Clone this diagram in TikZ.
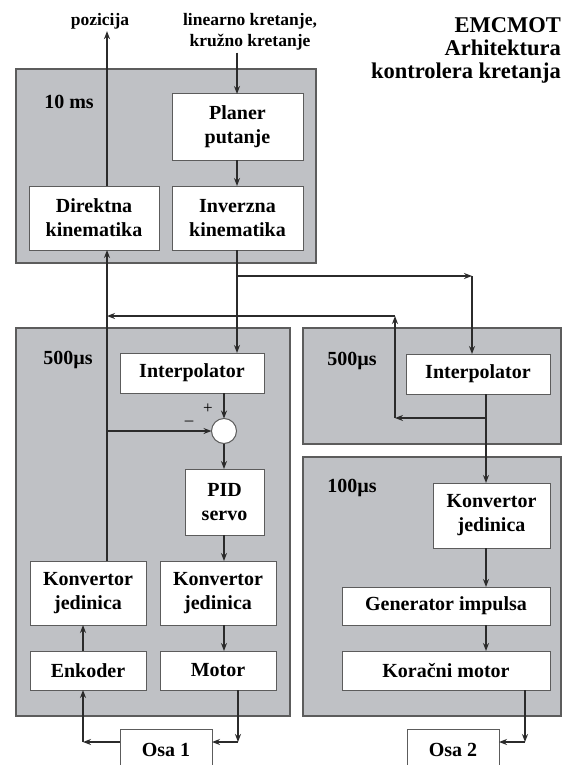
\documentclass[tikz,border=0pt]{standalone}
\usepackage{fontspec}
\setmainfont{Liberation Serif}
\usetikzlibrary{arrows.meta,calc}
\definecolor{panelc}{HTML}{BFC1C5}
\definecolor{edgec}{HTML}{5C5C5C}
\definecolor{linec}{HTML}{2B2B2B}
\begin{document}
\begin{tikzpicture}[x=1pt,y=-1pt,
  panel/.style={draw=edgec, fill=panelc, line width=1.2pt, anchor=north west, inner sep=0pt, outer sep=0pt},
  box/.style={draw=edgec, fill=white, line width=1pt, anchor=north west, inner sep=0pt, outer sep=0pt,
              font=\fontsize{20}{24}\selectfont\bfseries, align=center},
  arr/.style={draw=linec, line width=1.4pt, -{Stealth[length=8pt,width=6pt]}},
  lbl/.style={font=\fontsize{20}{24}\selectfont\bfseries, inner sep=0pt},
  small/.style={font=\fontsize{17.5}{21}\selectfont\bfseries, align=center, inner sep=2pt},
  sign/.style={font=\fontsize{17}{20}\selectfont, inner sep=0pt}]
\useasboundingbox (0,0) rectangle (563,765);
\fill[white] (0,0) rectangle (563,765);

% panels
\node[panel, minimum width=300pt, minimum height=194pt] (ptop) at (16,69) {};
\node[panel, minimum width=274pt, minimum height=388pt] (pleft) at (16,328) {};
\node[panel, minimum width=258pt, minimum height=116pt] (pr1) at (303,328) {};
\node[panel, minimum width=258pt, minimum height=259pt] (pr2) at (303,457) {};

% labels
\node[lbl] (l10) at (69,102) {10 ms};
\node[lbl] (l500a) at (68,360) {500µs};
\node[lbl] (l500b) at (352,361) {500µs};
\node[lbl] (l100) at (352,488) {100µs};
\node[small] (poz) at (100,21) {pozicija};
\node[small] (lin) at (250,32) {linearno kretanje,\\kružno kretanje};
\node[font=\fontsize{22.5}{23}\selectfont\bfseries, align=right, anchor=east, inner sep=0pt] (title) at (561,50) {EMCMOT\\Arhitektura\\kontrolera kretanja};

% boxes
\node[box, minimum width=131pt, minimum height=66pt] (plan) at (172,94) {Planer\\putanje};
\node[box, minimum width=130pt, minimum height=64pt] (dir) at (29,186) {Direktna\\kinematika};
\node[box, minimum width=131pt, minimum height=64pt] (inv) at (172,186) {Inverzna\\kinematika};
\node[box, minimum width=144pt, minimum height=40pt] (int1) at (120,353) {Interpolator};
\node[box, minimum width=144pt, minimum height=40pt] (int2) at (406,354) {Interpolator};
\node[box, minimum width=79pt, minimum height=66pt] (pid) at (185,469) {PID\\servo};
\node[box, minimum width=117pt, minimum height=65pt] (kon2) at (433,483) {Konvertor\\jedinica};
\node[box, minimum width=116pt, minimum height=64pt] (kl) at (30,561) {Konvertor\\jedinica};
\node[box, minimum width=116pt, minimum height=64pt] (km) at (160,561) {Konvertor\\jedinica};
\node[box, minimum width=208pt, minimum height=38pt] (gen) at (342,587) {Generator impulsa};
\node[box, minimum width=116pt, minimum height=39pt] (enk) at (30,651) {Enkoder};
\node[box, minimum width=116pt, minimum height=39pt] (mot) at (160,651) {Motor};
\node[box, minimum width=208pt, minimum height=39pt] (kor) at (342,651) {Koračni motor};
\node[box, minimum width=92pt, minimum height=42pt] (osa1) at (120,729) {Osa 1};
\node[box, minimum width=92pt, minimum height=42pt] (osa2) at (407,729) {Osa 2};
\node[circle, draw=edgec, fill=white, line width=1pt, minimum size=25pt, inner sep=0pt, outer sep=0pt] (sum) at (224,431) {};
\node[sign] (plus) at (208,409) {+};
\node[sign] (minus) at (189,423) {–};

% x positions of connectors
\coordinate (xa) at (107,0);
\coordinate (xb) at (237,0);
\coordinate (xc) at (224,0);
\coordinate (xd) at (472,0);
\coordinate (xe) at (486,0);
\coordinate (xg) at (83,0);
\coordinate (xh) at (238,0);
\coordinate (xi) at (525,0);
% corners
\coordinate (c1) at (237,276);
\coordinate (c2) at (472,276);
\coordinate (c3) at (486,418);
\coordinate (c4) at (395,418);
\coordinate (c5) at (395,316);
\coordinate (c6) at (107,316);
\coordinate (c7) at (83,742);
\coordinate (c8) at (238,742);
\coordinate (c9) at (525,742);
\coordinate (c10) at (107,431);

% connectors
\draw[arr] (dir.north -| xa) -- (xa |- poz.south);
\draw[arr] (lin.south -| xb) -- (plan.north -| xb);
\draw[arr] (plan.south -| xb) -- (inv.north -| xb);
\draw[arr] (inv.south -| xb) -- (int1.north -| xb);
\draw[arr] (c1) -- (c2);
\draw[arr] (c2) -- (int2.north -| xd);
\draw[arr] (int2.south -| xe) -- (kon2.north -| xe);
\draw[arr] (c3) -- (c4);
\draw[arr] (c4) -- (c5);
\draw[arr] (c5) -- (c6);
\draw[arr] (kl.north -| xa) -- (dir.south -| xa);
\draw[arr] (c10) -- (sum.west);
\draw[arr] (int1.south -| xc) -- (sum.north);
\draw[arr] (sum.south) -- (pid.north -| xc);
\draw[arr] (pid.south -| xc) -- (km.north -| xc);
\draw[arr] (km.south -| xc) -- (mot.north -| xc);
\draw[arr] (enk.north -| xg) -- (kl.south -| xg);
\draw[arr] (osa1.west |- c7) -- (c7);
\draw[arr] (c7) -- (enk.south -| xg);
\draw[arr] (mot.south -| xh) -- (c8);
\draw[arr] (c8) -- (osa1.east |- c8);
\draw[arr] (kon2.south -| xe) -- (gen.north -| xe);
\draw[arr] (gen.south -| xe) -- (kor.north -| xe);
\draw[arr] (kor.south -| xi) -- (c9);
\draw[arr] (c9) -- (osa2.east |- c9);
\end{tikzpicture}
\end{document}
